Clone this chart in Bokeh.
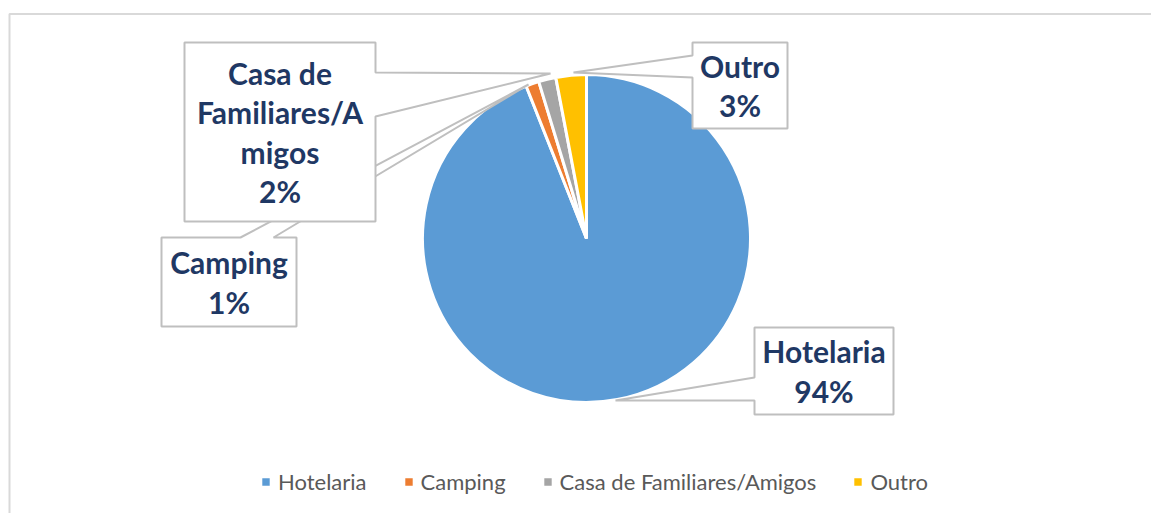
import numpy as np
from bokeh.plotting import figure
from bokeh.models import ColumnDataSource, Range1d, Legend, LegendItem
from bokeh.core.properties import value
from bokeh.embed import file_html
from bokeh.resources import INLINE

# ---- data ----
categories = ["Hotelaria", "Camping", "Casa de Familiares/Amigos", "Outro"]
shares = [94.0, 1.3, 1.7, 3.0]
label_names = ["Hotelaria", "Camping", "Casa de\nFamiliares/A\nmigos", "Outro"]
colors = ["#5B9BD5", "#ED7D31", "#A5A5A5", "#FFC000"]

W, H = 1151, 513


def sx(X):
    return X


def sy(Y):
    return H - Y


p = figure(width=W, height=H, output_backend="svg", toolbar_location=None,
           x_range=Range1d(0, W), y_range=Range1d(0, H), min_border=0)
p.axis.visible = False
p.grid.visible = False
p.outline_line_color = None
p.background_fill_color = "white"

# outer chart border
p.line([sx(9), sx(9), W + 20], [-20, sy(13.5), sy(13.5)], line_color="#D9D9D9", line_width=2)

# ---- pie ----
vals = np.array(shares, dtype=float)
frac = vals / vals.sum()
cum = np.cumsum(frac)
start = np.pi / 2 - 2 * np.pi * np.concatenate([[0], cum[:-1]])
end = np.pi / 2 - 2 * np.pi * cum
cx, cy, R = sx(586), sy(238), 164
src = ColumnDataSource(dict(name=categories, start=start, end=end, color=colors,
                            x=[cx] * 4, y=[cy] * 4))
r = p.wedge(x="x", y="y", radius=R, start_angle="start", end_angle="end",
            direction="clock", fill_color="color", line_color="white",
            line_width=3, source=src)

# ---- callout labels (box + pointer), drawn in order ----
pct = [f"{int(round(v / vals.sum() * 100))}%" for v in vals]
callouts = {
    1: dict(box=(161, 237, 296, 326),
            poly=[(161, 237), (240, 237), (528, 84), (273, 237), (296, 237),
                  (296, 326), (161, 326)]),
    2: dict(box=(184, 42, 375, 221),
            poly=[(184, 42), (375, 42), (375, 72), (550, 73), (375, 116),
                  (375, 221), (184, 221)]),
    3: dict(box=(692, 42, 787, 128),
            poly=[(692, 42), (787, 42), (787, 128), (692, 128), (692, 77),
                  (573, 72), (692, 55)]),
    0: dict(box=(754, 327, 893, 414),
            poly=[(754, 327), (893, 327), (893, 414), (754, 414), (754, 400),
                  (615, 400), (754, 377)]),
}
for i in [1, 2, 3, 0]:
    c = callouts[i]
    xs = [sx(pt[0]) for pt in c["poly"]]
    ys = [sy(pt[1]) for pt in c["poly"]]
    p.patch(xs, ys, fill_color="white", line_color="#BFBFBF", line_width=2)
    l, t, rr, b = c["box"]
    p.text(x=[sx((l + rr) / 2)], y=[sy((t + b) / 2)],
           text=[label_names[i] + "\n" + pct[i]],
           text_font=value("Lato"), text_font_style="bold",
           text_font_size="30px", text_color="#1F3864",
           text_align="center", text_baseline="middle",
           text_line_height=1.1)

# ---- legend ----
items = [LegendItem(label=categories[i], renderers=[r], index=i) for i in range(4)]
legend = Legend(items=items, orientation="horizontal", location=(259, 18),
                border_line_color=None, background_fill_alpha=0,
                label_text_font="Lato", label_text_font_size="22px",
                label_text_color="#595959", glyph_width=13, glyph_height=13,
                spacing=35, padding=0, margin=0, label_standoff=6)
p.add_layout(legend, "center")

open("out.html", "w").write(file_html(p, INLINE))
